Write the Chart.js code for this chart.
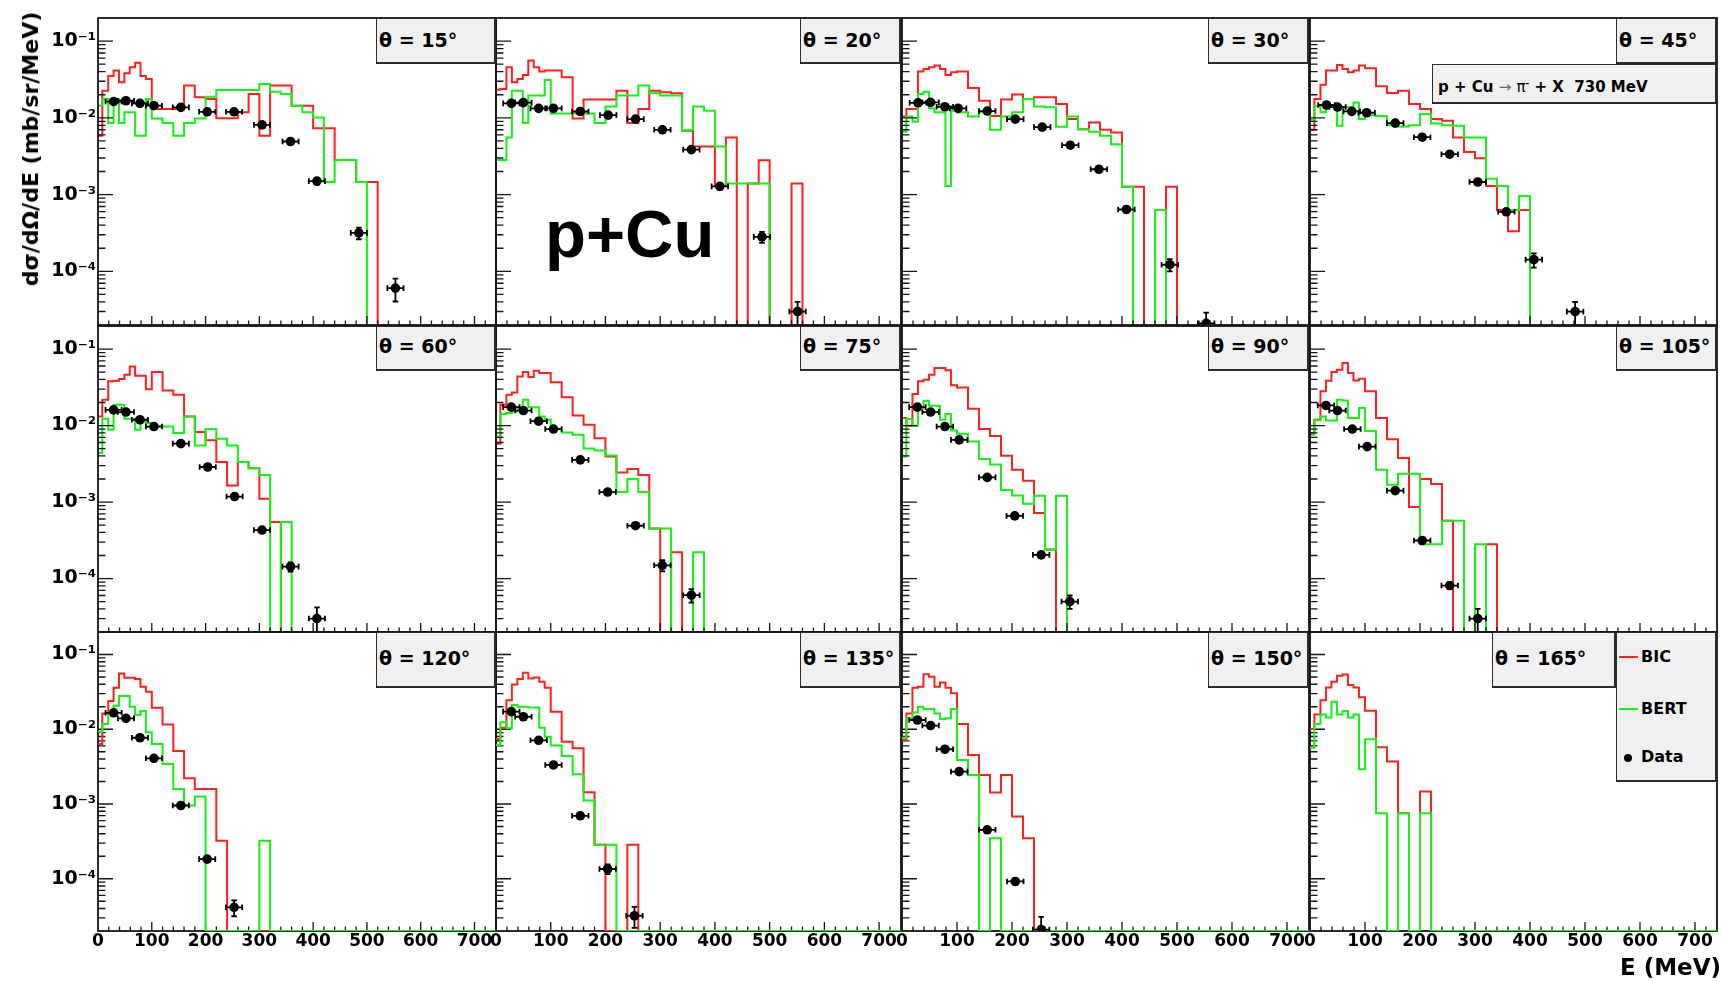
<!DOCTYPE html>
<html>
<head>
<meta charset="utf-8">
<title>p + Cu → π⁻ + X, 730 MeV</title>
<script src="https://cdn.jsdelivr.net/npm/chart.js@4.4.1/dist/chart.umd.min.js"></script>
<style>
  html, body { margin: 0; padding: 0; background: #fff; }
  #stage { position: relative; width: 1723px; height: 982px; overflow: hidden; background: #fff; }
  #stage canvas { position: absolute; }
  .txt { position: absolute; line-height: 0; white-space: nowrap; color: #000; font-weight: bold; font-family: "DejaVu Sans", sans-serif; }
  .box { position: absolute; box-sizing: border-box; background: #f0f0f0; border-style: solid; border-color: #2b2b2b; border-width: 1px 2px 2px 1px; }
  .ytitle { position: absolute; line-height: 1; white-space: nowrap; font-weight: bold; font-family: "DejaVu Sans", sans-serif;
            transform: translate(-50%, -50%) rotate(-90deg); }
</style>
</head>
<body>
<div id="stage"></div>
<script>
// ---------------------------------------------------------------------------
// p + Cu -> pi- + X at 730 MeV: double differential cross sections
// (mb/sr/MeV) versus pion kinetic energy, for twelve emission angles.
// BIC and BERT are binned model predictions, Data are measured points.
// ---------------------------------------------------------------------------
const ANGLES = [15, 20, 30, 45, 60, 75, 90, 105, 120, 135, 150, 165];

// histogram bin edges in MeV (fine bins below 100 MeV, 20 MeV bins above)
const BIN_EDGES = [0, 8, 19, 29, 39, 49, 59, 69, 79, 89, 100, 120, 140, 160, 180, 200, 220, 240,
  260, 280, 300, 320, 340, 360, 380, 400, 420, 440, 460, 480, 500, 520, 540, 560, 580, 600,
  620, 640, 660, 680, 700, 720, 740];

// model predictions per bin (bins past the end of a list are empty)
const BIC_15 = [0.00583, 0.0226, 0.0352, 0.0413, 0.0291, 0.0381, 0.0457, 0.0521, 0.0352, 0.0321, 0.0130, 0.0130, 0.0130, 0.0263, 0.0185, 0.0176, 0.0099, 0.0099, 0.0118, 0.0205, 0.00583, 0.0263, 0.0263, 0.0144, 0.0144, 0.0073, 0.0073, 0.00283, 0.00283, 0.00146, 0.00146];
const BERT_15 = [0.0144, 0.0176, 0.0086, 0.0176, 0.0086, 0.0118, 0.0118, 0.00583, 0.00583, 0.0176, 0.0098, 0.0086, 0.00583, 0.0086, 0.0098, 0.0189, 0.0231, 0.0231, 0.0231, 0.0231, 0.0277, 0.0219, 0.0205, 0.0144, 0.0118, 0.0101, 0.00146, 0.00283, 0.00283, 0.00146];
const BIC_20 = [0.0233, 0.0238, 0.0457, 0.0291, 0.0321, 0.0363, 0.0559, 0.0457, 0.0401, 0.0413, 0.0413, 0.0338, 0.0098, 0.0173, 0.0173, 0.0173, 0.0226, 0.0086, 0.0130, 0.0226, 0.0215, 0.0209, 0.00678, 0.00424, 0.00424, 0.00129, 0.00555, 0, 0.00140, 0.00280, 0, 0, 0.00140];
const BERT_20 = [0.00283, 0.00283, 0.00555, 0.0226, 0.0226, 0.0086, 0.0195, 0.0195, 0.0195, 0.0312, 0.0114, 0.0114, 0.0114, 0.0114, 0.0086, 0.0141, 0.0195, 0.0195, 0.0263, 0.0209, 0.0195, 0.0195, 0.00692, 0.0141, 0.0124, 0.00424, 0.0014, 0.0014, 0.0014, 0.0014];
const BIC_30 = [0.0104, 0.0130, 0.0130, 0.0401, 0.0434, 0.0457, 0.0481, 0.0434, 0.0363, 0.0393, 0.0401, 0.0245, 0.0167, 0.0106, 0.0173, 0.0201, 0.0176, 0.0185, 0.0185, 0.0151, 0.00964, 0.00713, 0.00871, 0.00699, 0.00645, 0.00127, 0.00127, 0, 0, 0.00127];
const BERT_30 = [0.0066, 0.0104, 0.0089, 0.0205, 0.0219, 0.0133, 0.0118, 0.0118, 0.00129, 0.0124, 0.0118, 0.0104, 0.0118, 0.00699, 0.0104, 0.0118, 0.0176, 0.0141, 0.0137, 0.00765, 0.0104, 0.00713, 0.0066, 0.00583, 0.00454, 0.00127, 0, 0, 0.00063];
const BIC_45 = [0.0070, 0.0176, 0.0269, 0.0413, 0.0413, 0.049, 0.0434, 0.0393, 0.0413, 0.0481, 0.0443, 0.0258, 0.0211, 0.0226, 0.0151, 0.0130, 0.00964, 0.00917, 0.00555, 0.0036, 0.00297, 0.00129, 0.00063, 0.000332, 0.00063];
const BERT_45 = [0.00945, 0.0144, 0.0118, 0.0137, 0.0137, 0.00788, 0.0137, 0.0137, 0.0159, 0.00964, 0.0108, 0.0106, 0.0080, 0.00774, 0.0080, 0.0112, 0.00845, 0.0080, 0.00788, 0.00555, 0.00555, 0.00161, 0.00129, 0.00063, 0.000957];
const BIC_60 = [0.0131, 0.0217, 0.0378, 0.0386, 0.0405, 0.0461, 0.0593, 0.0448, 0.0448, 0.0299, 0.0500, 0.0288, 0.0253, 0.0131, 0.0082, 0.0064, 0.00333, 0.00165, 0.00333, 0.00277, 0.0011, 0.00055];
const BERT_60 = [0.00436, 0.0123, 0.0088, 0.0187, 0.0187, 0.0123, 0.0123, 0.0088, 0.0113, 0.0108, 0.0099, 0.0097, 0.0080, 0.0131, 0.0055, 0.0090, 0.0067, 0.0055, 0.00333, 0.00277, 0.00226, 0, 0.00055];
const BIC_75 = [0.0058, 0.0187, 0.0253, 0.0271, 0.0439, 0.0500, 0.0430, 0.0521, 0.0486, 0.0486, 0.0367, 0.0235, 0.0135, 0.0102, 0.0068, 0.00394, 0.00243, 0.0027, 0.00226, 0.00045, 0, 0.00022];
const BERT_75 = [0.0072, 0.0141, 0.0146, 0.0153, 0.0174, 0.0217, 0.0174, 0.0174, 0.0131, 0.0119, 0.0091, 0.0081, 0.0076, 0.0050, 0.00472, 0.00407, 0.00135, 0.0020, 0.00135, 0.00045, 0.00045, 0, 0, 0.00022];
const BIC_90 = [0.0125, 0.0099, 0.0258, 0.0378, 0.0397, 0.0461, 0.0564, 0.0564, 0.0526, 0.0335, 0.0315, 0.0166, 0.0090, 0.0073, 0.00403, 0.00264, 0.0019, 0.00072, 0.00024];
const BERT_90 = [0.00394, 0.0122, 0.0099, 0.0169, 0.0211, 0.0181, 0.0181, 0.0119, 0.0142, 0.0086, 0.0078, 0.0062, 0.00365, 0.0031, 0.00144, 0.00122, 0.00095, 0.00121, 0.00024, 0.00121];
const BIC_105 = [0.0080, 0.0119, 0.0280, 0.0386, 0.0500, 0.0537, 0.0655, 0.0486, 0.0389, 0.0409, 0.0280, 0.0125, 0.0066, 0.00375, 0.00086, 0.0020, 0.00172, 0.00057, 0, 0, 0, 0.00028];
const BERT_105 = [0.0076, 0.0119, 0.0131, 0.0116, 0.0116, 0.0217, 0.0213, 0.0125, 0.0125, 0.0169, 0.0085, 0.00264, 0.00168, 0.00234, 0.00234, 0.00028, 0.00028, 0.00057, 0.00057, 0, 0.00028];
const BIC_120 = [0.00636, 0.0163, 0.0238, 0.0359, 0.0557, 0.0488, 0.0488, 0.0469, 0.0370, 0.0318, 0.0194, 0.0116, 0.00512, 0.00221, 0.00159, 0.00159, 0.000322];
const BERT_120 = [0.00929, 0.01175, 0.0163, 0.0206, 0.0278, 0.0278, 0.0200, 0.0155, 0.0175, 0.0091, 0.00636, 0.00344, 0.00159, 0.000955, 0.00126, 0, 0, 0, 0, 0, 0.000322];
const BIC_135 = [0.00741, 0.0105, 0.0245, 0.0397, 0.0469, 0.0569, 0.0478, 0.0493, 0.0432, 0.0359, 0.0172, 0.00683, 0.00556, 0.00144, 0.000285, 0, 0, 0.000285];
const BERT_135 = [0.00616, 0.01236, 0.0103, 0.0211, 0.0200, 0.0200, 0.0196, 0.0196, 0.0105, 0.00796, 0.00604, 0.0044, 0.0025, 0.00111, 0.000285, 0.000285];
const BIC_150 = [0.00719, 0.0163, 0.0359, 0.0370, 0.0546, 0.0503, 0.0370, 0.0422, 0.0359, 0.0302, 0.01175, 0.00453, 0.00245, 0.00142, 0.00245, 0.00068, 0.000349];
const BERT_150 = [0.0077, 0.0140, 0.0168, 0.0200, 0.0186, 0.0186, 0.0163, 0.0137, 0.0140, 0.0186, 0.00388, 0.00245, 0, 0.000349];
const BIC_165 = [0.0101, 0.0158, 0.0245, 0.0362, 0.0432, 0.0519, 0.0541, 0.0390, 0.0362, 0.0267, 0.0177, 0.00573, 0.00369, 0.000753, 0, 0.00147];
const BERT_165 = [0.00567, 0.01175, 0.0158, 0.0144, 0.0234, 0.0158, 0.0175, 0.0144, 0.0158, 0.00292, 0.00733, 0.000753, 0, 0.000753, 0, 0.000753];

// measured points: pion energy (MeV), cross section, and its uncertainty
const E_15 = [29, 52, 78, 104, 154, 203, 253, 305, 358, 407, 485, 553];
const DATA_15 = [0.0163, 0.0167, 0.01545, 0.0144, 0.0137, 0.0120, 0.0120, 0.0081, 0.00492, 0.00150, 3.17e-4, 6.05e-5];
const ERR_15 = [0.0012, 0.0010, 0.0008, 0.0007, 0.0006, 0.0005, 0.0005, 0.0004, 0.0002, 0.00015, 5.5e-5, 2e-5];
const E_20 = [28, 50, 78, 105, 154, 205, 255, 304, 357, 409, 486, 551];
const DATA_20 = [0.01545, 0.0158, 0.0133, 0.0133, 0.0121, 0.01086, 0.00964, 0.00699, 0.00386, 0.00128, 2.81e-4, 3.0e-5];
const ERR_20 = [0.0012, 0.0010, 0.0006, 0.0006, 0.0005, 0.0004, 0.0004, 0.0003, 0.0002, 0.00013, 4.5e-5, 1e-5];
const E_30 = [29, 52, 78, 102, 155, 206, 255, 306, 358, 408, 487, 553];
const DATA_30 = [0.0157, 0.0159, 0.01396, 0.0133, 0.01227, 0.00964, 0.00757, 0.0044, 0.00214, 6.4e-4, 1.22e-4, 2.1e-5];
const ERR_30 = [0.0013, 0.0010, 0.0006, 0.0006, 0.0005, 0.0004, 0.0003, 0.0002, 0.0001, 6e-5, 2.2e-5, 8e-6];
const E_45 = [30, 50, 76, 103, 155, 204, 254, 305, 357, 407, 482];
const DATA_45 = [0.0147, 0.01383, 0.01214, 0.01166, 0.00855, 0.0056, 0.00336, 0.00146, 5.97e-4, 1.42e-4, 2.99e-5];
const ERR_45 = [0.0011, 0.0008, 0.0006, 0.0005, 0.0004, 0.0003, 0.00015, 7e-5, 4e-5, 3e-5, 1e-5];
const E_60 = [29, 52, 78, 104, 154, 204, 254, 305, 358, 407];
const DATA_60 = [0.016, 0.0150, 0.0119, 0.0097, 0.0058, 0.00287, 0.00118, 4.3e-4, 1.43e-4, 3.0e-5];
const ERR_60 = [0.0013, 0.0008, 0.0005, 0.0004, 0.0003, 0.00012, 6e-5, 3e-5, 2e-5, 1.2e-5];
const E_75 = [28, 50, 78, 105, 154, 204, 255, 304, 357];
const DATA_75 = [0.0174, 0.0157, 0.0114, 0.0090, 0.00356, 0.00135, 4.9e-4, 1.49e-4, 6.05e-5];
const ERR_75 = [0.0013, 0.0008, 0.0005, 0.0004, 0.00015, 6e-5, 3e-5, 2.5e-5, 1.2e-5];
const E_90 = [28, 52, 78, 104, 155, 205, 253, 305];
const DATA_90 = [0.0174, 0.0150, 0.0097, 0.0065, 0.0021, 6.6e-4, 2.04e-4, 5.0e-5];
const ERR_90 = [0.0013, 0.0008, 0.0005, 0.0003, 0.0001, 4e-5, 1.5e-5, 1e-5];
const E_105 = [29, 50, 77, 104, 155, 204, 254, 305];
const DATA_105 = [0.0183, 0.0157, 0.0090, 0.0053, 0.00141, 3.14e-4, 8.1e-5, 3.0e-5];
const ERR_105 = [0.0015, 0.0012, 0.0005, 0.0003, 7e-5, 2e-5, 8e-6, 1e-5];
const E_120 = [29, 52, 78, 104, 154, 203, 253];
const DATA_120 = [0.0166, 0.0140, 0.0077, 0.00409, 9.55e-4, 1.83e-4, 4.15e-5];
const ERR_120 = [0.0014, 0.0010, 0.0004, 0.0002, 5e-5, 1.5e-5, 1e-5];
const E_135 = [28, 50, 78, 105, 154, 204, 253];
const DATA_135 = [0.0172, 0.0147, 0.00711, 0.00333, 6.95e-4, 1.35e-4, 3.2e-5];
const ERR_135 = [0.0015, 0.0010, 0.0004, 0.0002, 4e-5, 2e-5, 1e-5];
const E_150 = [28, 52, 78, 104, 155, 206, 253];
const DATA_150 = [0.0133, 0.0112, 0.0054, 0.00271, 4.52e-4, 9.2e-5, 2.09e-5];
const ERR_150 = [0.0010, 0.0008, 0.0003, 0.00015, 3e-5, 1e-5, 1e-5];
const E_HALF_WIDTH = 15;   // MeV, horizontal extent of each measured point

const Y_TICK_VALUES = [1e-4, 1e-3, 1e-2, 1e-1];
const Y_TICK_LABELS = ['10⁻⁴', '10⁻³', '10⁻²', '10⁻¹'];
const X_TICK_VALUES = [0, 100, 200, 300, 400, 500, 600, 700];
const LEGEND_LABELS = ['BIC', 'BERT', 'Data'];

const SERIES = {
  15: { bic: BIC_15, bert: BERT_15, e: E_15, data: DATA_15, err: ERR_15 },
  20: { bic: BIC_20, bert: BERT_20, e: E_20, data: DATA_20, err: ERR_20 },
  30: { bic: BIC_30, bert: BERT_30, e: E_30, data: DATA_30, err: ERR_30 },
  45: { bic: BIC_45, bert: BERT_45, e: E_45, data: DATA_45, err: ERR_45 },
  60: { bic: BIC_60, bert: BERT_60, e: E_60, data: DATA_60, err: ERR_60 },
  75: { bic: BIC_75, bert: BERT_75, e: E_75, data: DATA_75, err: ERR_75 },
  90: { bic: BIC_90, bert: BERT_90, e: E_90, data: DATA_90, err: ERR_90 },
  105: { bic: BIC_105, bert: BERT_105, e: E_105, data: DATA_105, err: ERR_105 },
  120: { bic: BIC_120, bert: BERT_120, e: E_120, data: DATA_120, err: ERR_120 },
  135: { bic: BIC_135, bert: BERT_135, e: E_135, data: DATA_135, err: ERR_135 },
  150: { bic: BIC_150, bert: BERT_150, e: E_150, data: DATA_150, err: ERR_150 },
  165: { bic: BIC_165, bert: BERT_165, e: null, data: null, err: null }
};

// ---------------------------------------------------------------------------
// layout of the 4 x 3 grid of pads (page pixels)
// ---------------------------------------------------------------------------
const COLS = [[98, 496], [496, 901], [902, 1309], [1310, 1717]];
const ROWS = [[18, 325], [326, 632], [632, 931]];
const Y_MIN = 2e-5, Y_MAX = 0.2, X_MIN = 0, X_MAX = 740;
const AX_L = 90, AX_B = 34, PAD_T = 14, PAD_R = 14;
const BIC_COLOR = 'rgb(255,32,32)';
const BERT_COLOR = 'rgb(24,238,24)';
const FRAME_COLOR = '#141414';
const LINE_W = 2;
const CAP = 2.8;

const stage = document.getElementById('stage');

function isDecade(v) {
  const l = Math.log10(v);
  return Math.abs(l - Math.round(l)) < 1e-7;
}
function hasIntegerMantissa(v) {
  const m = v / Math.pow(10, Math.floor(Math.log10(v) + 1e-9));
  return Math.abs(m - Math.round(m)) < 1e-6;
}

// pad frame with ROOT style inward tick marks
function drawFrame(chart) {
  const { ctx, chartArea: a, scales } = chart;
  const xs = scales.x, ys = scales.y;
  ctx.save();
  ctx.strokeStyle = FRAME_COLOR;
  ctx.lineWidth = 1.3;
  ctx.beginPath();
  xs.ticks.forEach(t => {
    const px = xs.getPixelForValue(t.value);
    if (px <= a.left + 0.5 || px >= a.right - 0.5) return;
    const len = t.value % 100 === 0 ? 9 : 4.5;
    ctx.moveTo(px, a.bottom);
    ctx.lineTo(px, a.bottom - len);
  });
  ys.ticks.forEach(t => {
    if (!hasIntegerMantissa(t.value)) return;
    const py = ys.getPixelForValue(t.value);
    if (py <= a.top + 0.5 || py >= a.bottom - 0.5) return;
    const len = isDecade(t.value) ? 15 : 7.5;
    ctx.moveTo(a.left, py);
    ctx.lineTo(a.left + len, py);
  });
  ctx.stroke();
  ctx.lineWidth = 1.8;
  ctx.strokeRect(a.left, a.top, a.right - a.left, a.bottom - a.top);
  ctx.restore();
}

const rootFrame = {
  id: 'rootFrame',
  beforeDatasetsDraw(chart, args, opts) { if (!opts.onTop) drawFrame(chart); },
  afterDatasetsDraw(chart, args, opts) { if (opts.onTop) drawFrame(chart); }
};

// horizontal (energy bin) and vertical (uncertainty) bars under the markers
const errorBars = {
  id: 'errorBars',
  beforeDatasetDraw(chart, args) {
    const ds = chart.data.datasets[args.index];
    if (!ds.yErrors) return;
    const { ctx, chartArea: a, scales: { x: xs, y: ys } } = chart;
    ctx.save();
    ctx.beginPath();
    ctx.rect(a.left, a.top, a.right - a.left, a.bottom - a.top);
    ctx.clip();
    ctx.strokeStyle = '#000';
    ctx.lineWidth = 1.8;
    ctx.beginPath();
    ds.data.forEach((p, i) => {
      const px = xs.getPixelForValue(p.x), py = ys.getPixelForValue(p.y);
      const xl = xs.getPixelForValue(p.x - ds.xHalfWidth);
      const xr = xs.getPixelForValue(p.x + ds.xHalfWidth);
      ctx.moveTo(xl, py); ctx.lineTo(xr, py);
      ctx.moveTo(xl, py - CAP); ctx.lineTo(xl, py + CAP);
      ctx.moveTo(xr, py - CAP); ctx.lineTo(xr, py + CAP);
      const e = ds.yErrors[i];
      const yt = ys.getPixelForValue(p.y + e);
      const yb = p.y - e > 0 ? ys.getPixelForValue(p.y - e) : a.bottom + 6;
      ctx.moveTo(px, yt); ctx.lineTo(px, yb);
      ctx.moveTo(px - CAP, yt); ctx.lineTo(px + CAP, yt);
      ctx.moveTo(px - CAP, yb); ctx.lineTo(px + CAP, yb);
    });
    ctx.stroke();
    ctx.restore();
  }
};

// step outline of a binned prediction; empty bins sit at the floor value
function histPoints(vals, floor) {
  const pts = [];
  for (let i = 0; i < BIN_EDGES.length - 1; i++) {
    const v = i < vals.length ? vals[i] : 0;
    pts.push({ x: BIN_EDGES[i], y: v > 0 ? v : floor });
  }
  pts.push({ x: BIN_EDGES[BIN_EDGES.length - 1], y: floor });
  return pts;
}

ANGLES.forEach((ang, k) => {
  const col = k % 4, row = Math.floor(k / 4);
  const [x0, x1] = COLS[col];
  const [y0, y1] = ROWS[row];
  const bottomRow = row === 2, leftCol = col === 0;
  const w = (x1 - x0) + AX_L + PAD_R;
  const h = (y1 - y0) + PAD_T + AX_B;
  const cv = document.createElement('canvas');
  cv.width = w; cv.height = h;
  cv.style.left = (x0 - AX_L) + 'px';
  cv.style.top = (y0 - PAD_T) + 'px';
  cv.style.width = w + 'px';
  cv.style.height = h + 'px';
  stage.appendChild(cv);

  const s = SERIES[ang];
  const floor = bottomRow ? Y_MIN : 1e-9;
  const datasets = [];
  if (s.data) {
    datasets.push({
      label: LEGEND_LABELS[2],
      data: s.e.map((e, i) => ({ x: e, y: s.data[i] })),
      showLine: false,
      pointRadius: 4.8,
      pointStyle: 'circle',
      pointBackgroundColor: '#000',
      pointBorderColor: '#000',
      pointBorderWidth: 0,
      borderColor: '#000',
      yErrors: s.err,
      xHalfWidth: E_HALF_WIDTH,
      clip: 0,
      order: 0
    });
  }
  datasets.push({
    label: LEGEND_LABELS[1],
    data: histPoints(s.bert, floor),
    borderColor: BERT_COLOR, borderWidth: LINE_W,
    pointRadius: 0, stepped: true, fill: false, order: 1
  });
  datasets.push({
    label: LEGEND_LABELS[0],
    data: histPoints(s.bic, floor),
    borderColor: BIC_COLOR, borderWidth: LINE_W,
    pointRadius: 0, stepped: true, fill: false, order: 2
  });

  new Chart(cv, {
    type: 'line',
    data: { datasets },
    options: {
      responsive: false,
      animation: false,
      events: [],
      layout: { padding: { left: 0, top: PAD_T, right: PAD_R, bottom: 0 } },
      plugins: {
        legend: { display: false },
        tooltip: { enabled: false },
        rootFrame: { onTop: !bottomRow }
      },
      scales: {
        x: {
          type: 'linear', min: X_MIN, max: X_MAX,
          afterFit: sc => { sc.height = AX_B; },
          grid: { display: false, drawTicks: false },
          border: { display: false },
          ticks: {
            display: bottomRow, stepSize: 20, autoSkip: false, maxRotation: 0, padding: 0,
            color: '#000', font: { family: 'DejaVu Sans', weight: 'bold', size: 17 },
            callback: v => (X_TICK_VALUES.includes(v) ? String(v) : '')
          }
        },
        y: {
          type: 'logarithmic', min: Y_MIN, max: Y_MAX,
          afterFit: sc => { sc.width = AX_L; },
          grid: { display: false, drawTicks: false },
          border: { display: false },
          ticks: {
            display: leftCol, autoSkip: false, padding: 2,
            color: '#000', font: { family: 'DejaVu Sans', weight: 'bold', size: 19 },
            callback: v => {
              const i = Y_TICK_VALUES.findIndex(t => Math.abs(t - v) / t < 1e-6);
              return i >= 0 ? Y_TICK_LABELS[i] : '';
            }
          }
        }
      }
    },
    plugins: [rootFrame, errorBars]
  });
});

// ---------------------------------------------------------------------------
// text panels
// ---------------------------------------------------------------------------
function addBox(xa, ya, xb, yb) {
  const d = document.createElement('div');
  d.className = 'box';
  d.style.left = xa + 'px'; d.style.top = ya + 'px';
  d.style.width = (xb - xa) + 'px'; d.style.height = (yb - ya) + 'px';
  stage.appendChild(d);
  return d;
}
function addText(html, x, baseline, size, family) {
  const d = document.createElement('div');
  d.className = 'txt';
  d.innerHTML = html;
  d.style.left = x + 'px';
  d.style.top = (baseline - 0.346 * size) + 'px';
  d.style.fontSize = size + 'px';
  if (family) d.style.fontFamily = family;
  stage.appendChild(d);
  return d;
}

const THETA_ROW_H = [46, 45, 56];
const THETA_BASE = [29, 27, 33];
const THETA_COL_X = [[376, 496], [800, 901], [1208, 1309], [1616, 1717]];
ANGLES.forEach((ang, k) => {
  const col = k % 4, row = Math.floor(k / 4);
  let [bx0, bx1] = THETA_COL_X[col];
  if (ang === 165) { bx0 = 1492; bx1 = 1616; }
  const top = ROWS[row][0];
  addBox(bx0, top, bx1, top + THETA_ROW_H[row]);
  addText('θ = ' + ang + '°', bx0 + 3, top + THETA_BASE[row], 19);
});

// reaction label
addBox(1432, 64, 1717, 104);
addText('p + Cu <span style="font-weight:normal;color:#666">→</span> <span style="font-weight:normal">π</span><sup style="font-size:9px">-</sup> + X&nbsp; 730 MeV', 1438, 88.5, 15);

// legend
addBox(1616, 632, 1717, 782);
[[BIC_COLOR, 657], [BERT_COLOR, 709]].forEach(([c, y]) => {
  const l = document.createElement('div');
  l.style.cssText = `position:absolute;left:1619px;top:${y - 1}px;width:19px;height:2px;background:${c};`;
  stage.appendChild(l);
});
const dot = document.createElement('div');
dot.style.cssText = 'position:absolute;left:1624px;top:754px;width:8px;height:8px;border-radius:50%;background:#000;';
stage.appendChild(dot);
addText(LEGEND_LABELS[0], 1641, 662.5, 16);
addText(LEGEND_LABELS[1], 1641, 714.5, 16);
addText(LEGEND_LABELS[2], 1641, 763, 16);

// big target label
addText('p+Cu', 545, 257, 67, '"Liberation Sans", Arial, sans-serif');

// axis titles
const yt = document.createElement('div');
yt.className = 'ytitle';
yt.textContent = 'dσ/dΩ/dE (mb/sr/MeV)';
yt.style.left = '31px'; yt.style.top = '148.5px'; yt.style.fontSize = '22px';
stage.appendChild(yt);
addText('E (MeV)', 1620, 975, 23);
</script>
</body>
</html>
